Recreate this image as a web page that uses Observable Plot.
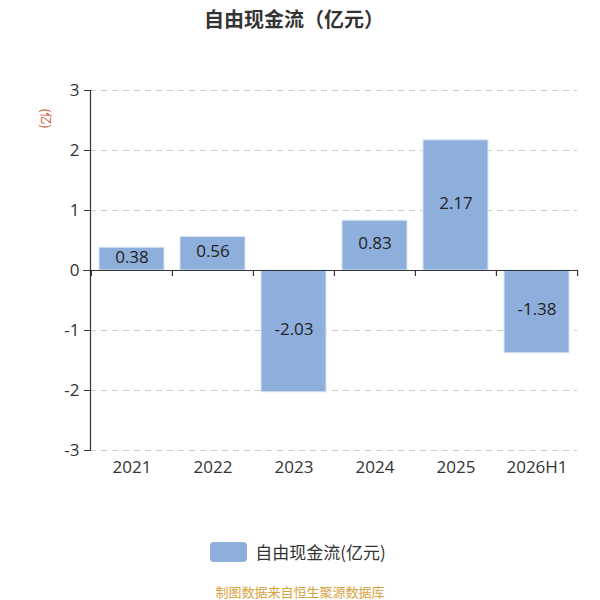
<!DOCTYPE html>
<html><head><meta charset="utf-8">
<script src="https://cdn.jsdelivr.net/npm/d3@7"></script>
<script src="https://cdn.jsdelivr.net/npm/@observablehq/plot@0.6"></script>
<style>
body{margin:0;background:#fff;font-family:"Open Sans","Noto Sans CJK SC",sans-serif;}
#wrap{position:relative;width:600px;height:600px;}
#title{position:absolute;left:0;top:4px;width:588px;text-align:center;font-size:20px;font-weight:bold;color:#333;font-family:"Noto Sans CJK SC",sans-serif;}
#ylab{position:absolute;left:36px;top:110px;font-size:12px;color:#c8502a;transform:rotate(90deg);transform-origin:center;font-family:"Noto Sans CJK SC",sans-serif;}
#chart{position:absolute;left:0;top:40px;}
#legend{position:absolute;top:539px;left:0;width:596px;display:flex;justify-content:center;align-items:center;font-size:17px;color:#333;font-family:"Noto Sans CJK SC",sans-serif;}
#legend .sw{width:37px;height:20px;border-radius:4px;background:#8eaedb;margin-right:8px;}
#footer{position:absolute;top:582px;left:0;width:600px;text-align:center;font-size:13px;color:#d6a23d;font-family:"Noto Sans CJK SC",sans-serif;}
</style></head>
<body><div id="wrap">
<div id="title">自由现金流（亿元）</div>
<div id="ylab">(亿)</div>
<div id="chart"></div>
<div id="legend"><div class="sw"></div><span>自由现金流(亿元)</span></div>
<div id="footer">制图数据来自恒生聚源数据库</div>
</div>
<script>
const categories = ["2021","2022","2023","2024","2025","2026H1"];
const values = [0.38, 0.56, -2.03, 0.83, 2.17, -1.38];
const yTicks = [-3,-2,-1,0,1,2,3];

const data = categories.map((c,i)=>({cat:c, v:values[i]}));
const W = 600, ML = 90, MR = 23;
const step = (W - ML - MR) / categories.length;

const chart = Plot.plot({
  width: W, height: 480,
  marginLeft: ML, marginRight: MR, marginTop: 50, marginBottom: 70,
  style: {fontFamily: '"Open Sans","Noto Sans CJK SC",sans-serif', color: "#333"},
  x: {type: "band", domain: categories, paddingInner: 0.2, paddingOuter: 0.1, label: null},
  y: {domain: [-3, 3], label: null},
  marks: [
    Plot.ruleY(yTicks.filter(t => t !== 0), {y: d => d, stroke: "#ccc", strokeDasharray: "6,5"}),
    Plot.barY(data, {x: "cat", y: "v", fill: "#8eaedb", stroke: "#dbe6f4", strokeWidth: 1}),
    Plot.ruleY([0], {stroke: "#333", strokeWidth: 1.2, insetLeft: -7}),
    Plot.ruleX(categories, {x: d => d, y1: 0, y2: -0.1, dx: -step/2, stroke: "#333", strokeWidth: 1.2}),
    Plot.ruleX([categories[categories.length-1]], {x: d => d, y1: 0, y2: -0.1, dx: step/2, stroke: "#333", strokeWidth: 1.2}),
    Plot.frame({anchor: "left", stroke: "#333", strokeWidth: 1.2}),
    Plot.axisY({ticks: yTicks, tickSize: 6, tickPadding: 5, fontSize: 17, tickFormat: d => d < 0 ? "-" + Math.abs(d) : String(d), label: null}),
    Plot.axisX({tickSize: 0, tickPadding: 10, fontSize: 17, label: null}),
    Plot.text(data, {x: "cat", y: d => d.v / 2, dy: -2, text: d => d.v.toFixed(2), fontSize: 17, fill: "#222"})
  ]
});
document.getElementById("chart").appendChild(chart);
</script>
</body></html>
